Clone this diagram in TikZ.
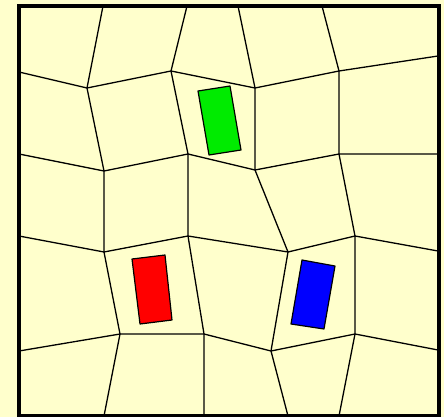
\documentclass[tikz,border=0pt]{standalone}
\usepackage{tikz}
\definecolor{paper}{RGB}{255,255,204}
\definecolor{cargreen}{RGB}{0,235,0}
\definecolor{carred}{RGB}{255,0,0}
\definecolor{carblue}{RGB}{0,0,255}
\begin{document}
\begin{tikzpicture}[x=1pt,y=-1pt,
  grid/.style={black,line width=1.3pt,line join=round},
  frame/.style={black,line width=4pt},
  car/.style={draw=black,line width=1.2pt,line join=round}]
\fill[paper] (0,0) rectangle (444,417);
\useasboundingbox (0,0) rectangle (444,417);
% rows
\draw[grid] (19,72) -- (87,88) -- (171,71) -- (255,88) -- (339,71) -- (438,56);
\draw[grid] (19,154) -- (104,171) -- (188,154) -- (255,170) -- (339,154) -- (438,154);
\draw[grid] (19,236) -- (104,252) -- (188,236) -- (288,252) -- (355,236) -- (438,251);
\draw[grid] (19,351) -- (120,334) -- (204,334) -- (271,351) -- (355,334) -- (438,350);
% columns
\draw[grid] (103,6) -- (87,88) -- (104,171) -- (104,252) -- (120,334) -- (104,416);
\draw[grid] (187,6) -- (171,71) -- (188,154) -- (188,236) -- (204,334) -- (204,416);
\draw[grid] (238,6) -- (255,88) -- (255,170) -- (288,252) -- (271,351) -- (288,416);
\draw[grid] (322,6) -- (339,71) -- (339,154) -- (355,236) -- (355,334) -- (339,416);
% blocks
\draw[car,fill=cargreen] (198,91) -- (230,86) -- (241,150) -- (209,155) -- cycle;
\draw[car,fill=carred] (132,259) -- (165,255) -- (172,320) -- (140,324) -- cycle;
\draw[car,fill=carblue] (302,260) -- (335,266) -- (324,329) -- (291,324) -- cycle;
% frame
\draw[frame] (19,6) rectangle (438.5,415.5);
\end{tikzpicture}
\end{document}
